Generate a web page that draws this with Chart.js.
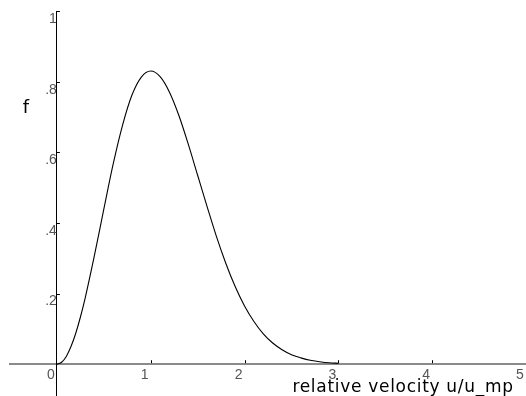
<!DOCTYPE html>
<html>
<head>
<meta charset="utf-8">
<script src="https://cdn.jsdelivr.net/npm/chart.js@4/dist/chart.umd.min.js"></script>
<style>
  html, body { margin: 0; padding: 0; background: #fff; }
  #wrap { width: 526px; height: 396px; position: relative; }
</style>
</head>
<body>
<div id="wrap"><canvas id="c" width="526" height="396"></canvas></div>
<script>
// Relative velocity values (u/u_mp)
const velocity = [0, 0.05, 0.1, 0.15, 0.2, 0.25, 0.3, 0.4, 0.5, 0.6, 0.7, 0.8, 0.9, 1.0,
  1.1, 1.2, 1.3, 1.4, 1.5, 1.6, 1.7, 1.8, 1.9, 2.0,
  2.1, 2.2, 2.3, 2.4, 2.5, 2.6, 2.7, 2.8, 2.9, 3.0];
// Distribution f
const fValues = [0, 0.0056, 0.022, 0.050, 0.087, 0.133, 0.186, 0.308, 0.439, 0.567, 0.677, 0.762, 0.813, 0.830,
  0.814, 0.770, 0.704, 0.623, 0.535, 0.447, 0.362, 0.286, 0.220, 0.165,
  0.121, 0.086, 0.060, 0.041, 0.027, 0.018, 0.011, 0.007, 0.004, 0.0025];
// Tick labels
const xTicks = [0, 1, 2, 3, 4, 5];
const yTicks = [0.2, 0.4, 0.6, 0.8, 1];
const yTickLabels = ['.2', '.4', '.6', '.8', '1'];
const xAxisTitle = 'relative velocity u/u_mp';
const yAxisTitle = 'f';

const points = velocity.map((v, i) => ({ x: v, y: fValues[i] }));

const noPad = s => { s.paddingTop = 0; s.paddingBottom = 0; s.paddingLeft = 0; s.paddingRight = 0; };

const extras = {
  id: 'extras',
  afterDraw(chart) {
    const ctx = chart.ctx;
    const xs = chart.scales.x, ys = chart.scales.y;
    const x0 = xs.getPixelForValue(0), y0 = ys.getPixelForValue(0);
    ctx.save();
    // small tick marks on the inner side
    ctx.strokeStyle = '#000';
    ctx.lineWidth = 1;
    ctx.beginPath();
    yTicks.forEach(v => {
      const py = Math.round(ys.getPixelForValue(v)) + 0.5;
      ctx.moveTo(x0, py); ctx.lineTo(x0 + 3, py);
    });
    xTicks.forEach(v => {
      if (v === 0) return;
      const px = Math.round(xs.getPixelForValue(v)) + 0.5;
      ctx.moveTo(px, y0 - 1); ctx.lineTo(px, y0 - 4);
    });
    ctx.stroke();
    // axis titles
    ctx.fillStyle = '#000';
    ctx.font = '17px "DejaVu Sans"';
    try { ctx.letterSpacing = '0.7px'; } catch (e) {}
    ctx.textBaseline = 'alphabetic';
    ctx.textAlign = 'left';
    ctx.fillText(xAxisTitle, xs.getPixelForValue(2.51), ys.getPixelForValue(-0.08));
    try { ctx.letterSpacing = '0px'; } catch (e) {}
    ctx.font = '18px "DejaVu Sans"';
    ctx.textAlign = 'center';
    ctx.fillText(yAxisTitle, x0 - 31, ys.getPixelForValue(0.71));
    ctx.restore();
  }
};

new Chart(document.getElementById('c'), {
  type: 'line',
  data: {
    datasets: [{
      data: points,
      borderColor: '#000',
      borderWidth: 1.1,
      pointRadius: 0,
      fill: false,
      cubicInterpolationMode: 'monotone'
    }]
  },
  options: {
    responsive: false,
    animation: false,
    devicePixelRatio: 1,
    layout: { padding: { left: 10, right: 0, top: 11, bottom: 0 } },
    plugins: { legend: { display: false }, tooltip: { enabled: false } },
    scales: {
      x: {
        type: 'linear',
        min: -0.5,
        max: 5,
        position: { y: 0 },
        afterBuildTicks: s => { s.ticks = xTicks.map(v => ({ value: v })); },
        afterFit: noPad,
        grid: { display: false, drawTicks: false },
        border: { display: true, color: '#8a8a8a', width: 2 },
        ticks: {
          padding: 3,
          labelOffset: -6,
          color: '#555',
          font: { family: 'Liberation Sans', size: 14 },
          maxRotation: 0,
          autoSkip: false,
          callback: v => String(v)
        }
      },
      y: {
        type: 'linear',
        min: -0.09,
        max: 1,
        position: { x: 0 },
        afterBuildTicks: s => { s.ticks = yTicks.map(v => ({ value: v })); },
        afterFit: noPad,
        grid: { display: false, drawTicks: false },
        border: { display: true, color: '#000', width: 1 },
        ticks: {
          padding: 2,
          labelOffset: 8,
          color: '#555',
          font: { family: 'Liberation Sans', size: 14 },
          autoSkip: false,
          callback: v => yTickLabels[yTicks.indexOf(v)]
        }
      }
    }
  },
  plugins: [extras]
});
</script>
</body>
</html>
